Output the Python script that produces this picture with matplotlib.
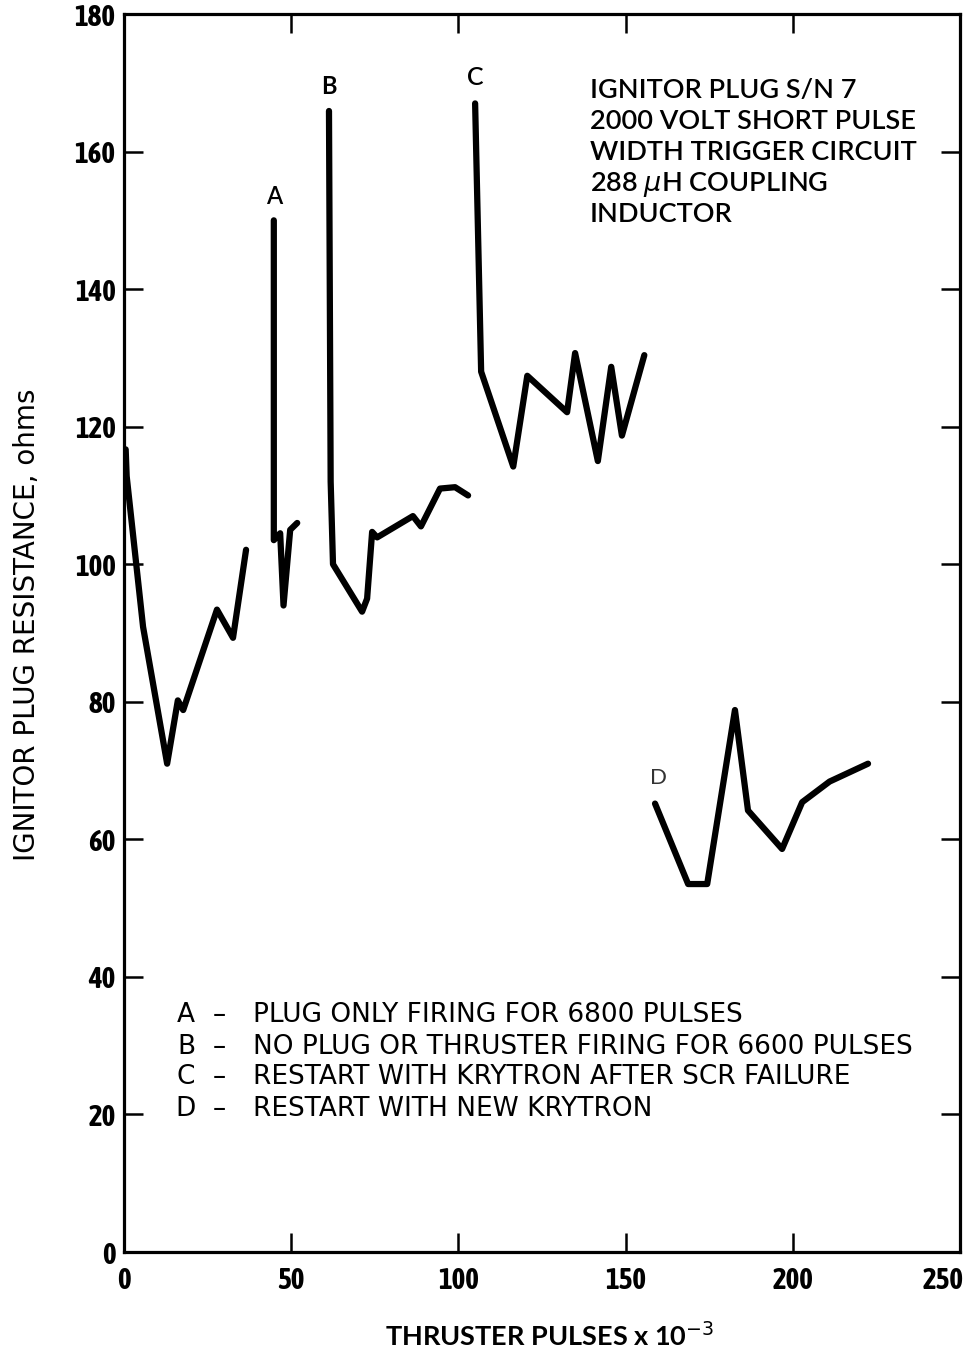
import matplotlib
matplotlib.use("Agg")
import matplotlib.pyplot as plt
from matplotlib.transforms import ScaledTranslation

# Data (thruster pulses x 10^-3, resistance ohms)
seg1_x = [0.5, 0.8, 5.7, 12.9, 16.1, 17.7, 27.8, 32.6, 36.5]
seg1_y = [116.7, 112.8, 90.9, 71.0, 80.2, 78.8, 93.4, 89.3, 102.1]

segA_x = [44.8, 44.8, 44.8, 46.7, 47.7, 49.7, 51.8]
segA_y = [150.0, 107.0, 103.5, 104.5, 94.0, 105.0, 106.0]

segB_x = [61.3, 61.8, 62.5, 71.2, 72.7, 74.2, 75.7, 86.4, 88.8, 94.5, 99.0, 102.9]
segB_y = [165.9, 112.0, 100.0, 93.1, 95.0, 104.7, 103.9, 107.0, 105.5, 111.0, 111.2, 110.0]

segC_x = [105.0, 106.8, 116.4, 120.6, 132.5, 134.9, 141.7, 145.7, 148.9, 155.6]
segC_y = [167.0, 128.0, 114.2, 127.4, 122.1, 130.7, 115.0, 128.7, 118.7, 130.4]

segD_x = [158.8, 168.7, 174.4, 182.7, 186.6, 196.8, 202.8, 211.0, 222.5]
segD_y = [65.2, 53.5, 53.5, 78.8, 64.2, 58.6, 65.4, 68.4, 71.0]

xticks = [0, 50, 100, 150, 200, 250]
yticks = [0, 20, 40, 60, 80, 100, 120, 140, 160, 180]

info_lines = ["IGNITOR PLUG S/N 7", "2000 VOLT SHORT PULSE", "WIDTH TRIGGER CIRCUIT",
              "288 $\\mu$H COUPLING", "INDUCTOR"]
legend_keys = ["A", "B", "C", "D"]
legend_texts = ["PLUG ONLY FIRING FOR 6800 PULSES",
                "NO PLUG OR THRUSTER FIRING FOR 6600 PULSES",
                "RESTART WITH KRYTRON AFTER SCR FAILURE",
                "RESTART WITH NEW KRYTRON"]

plt.rcParams['font.family'] = ['Lato', 'DejaVu Sans']
narrow = ['Asap Condensed', 'Lato', 'DejaVu Sans']
wide = ['DejaVu Sans']

W, H = 975, 1354
fig = plt.figure(figsize=(W / 100, H / 100), dpi=100)
L, R, T, B = 124, 960, 14, 1252
ax = fig.add_axes([L / W, 1 - B / H, (R - L) / W, (B - T) / H])

def fx(px):
    return px / W

def fy(py):
    return 1 - py / H

lw = 4.5
for xs, ys in [(seg1_x, seg1_y), (segA_x, segA_y), (segB_x, segB_y), (segC_x, segC_y), (segD_x, segD_y)]:
    ax.plot(xs, ys, color='black', lw=lw, solid_joinstyle='round', solid_capstyle='round')

ax.set_xlim(0, 250)
ax.set_ylim(0, 180)
ax.set_xticks(xticks)
ax.set_yticks(yticks)
ax.tick_params(direction='in', length=14, width=1.8, top=True, right=True, labelsize=21)
ax.tick_params(axis='x', pad=10)
ax.tick_params(axis='y', pad=6)
for lab in ax.get_xticklabels() + ax.get_yticklabels():
    lab.set_fontweight('bold')
    lab.set_family(narrow)
xl = ax.get_xticklabels()
xl[-1].set_transform(xl[-1].get_transform() + ScaledTranslation(-17 / 100, 0, fig.dpi_scale_trans))
for s in ax.spines.values():
    s.set_linewidth(2.3)

# Axis titles
fig.text(fx(550), fy(1336), "THRUSTER PULSES x 10$^{-3}$", fontsize=19.5,
         fontweight='bold', ha='center', va='center')
fig.text(fx(27), fy(625), "IGNITOR PLUG RESISTANCE, ohms", fontsize=20, family=wide,
         rotation=90, ha='center', va='center')

# Curve labels
ax.text(44.8, 153.5, "A", fontsize=17, ha='center', va='center', fontweight='semibold')
ax.text(61.3, 169.5, "B", fontsize=17, ha='center', va='center', fontweight='bold')
ax.text(105.0, 170.8, "C", fontsize=18, ha='center', va='center', fontweight='semibold')
ax.text(159.8, 68.9, "D", fontsize=16, ha='center', va='center', color='#333333')

# Info block
for i, line in enumerate(info_lines):
    fig.text(fx(590), fy(98 + 31 * i), line, fontsize=19.5, fontweight='semibold',
             ha='left', va='baseline')

# Legend block
for i, (k, t) in enumerate(zip(legend_keys, legend_texts)):
    yb = fy(1022.5 + 31 * i)
    fig.text(fx(186), yb, k, fontsize=19, family=wide, ha='center', va='baseline')
    fig.text(fx(219), yb, "\u2013", fontsize=19, family=wide, ha='center', va='baseline')
    fig.text(fx(253), yb, t, fontsize=19, family=wide, ha='left', va='baseline')

fig.savefig("out.png", dpi=100)
